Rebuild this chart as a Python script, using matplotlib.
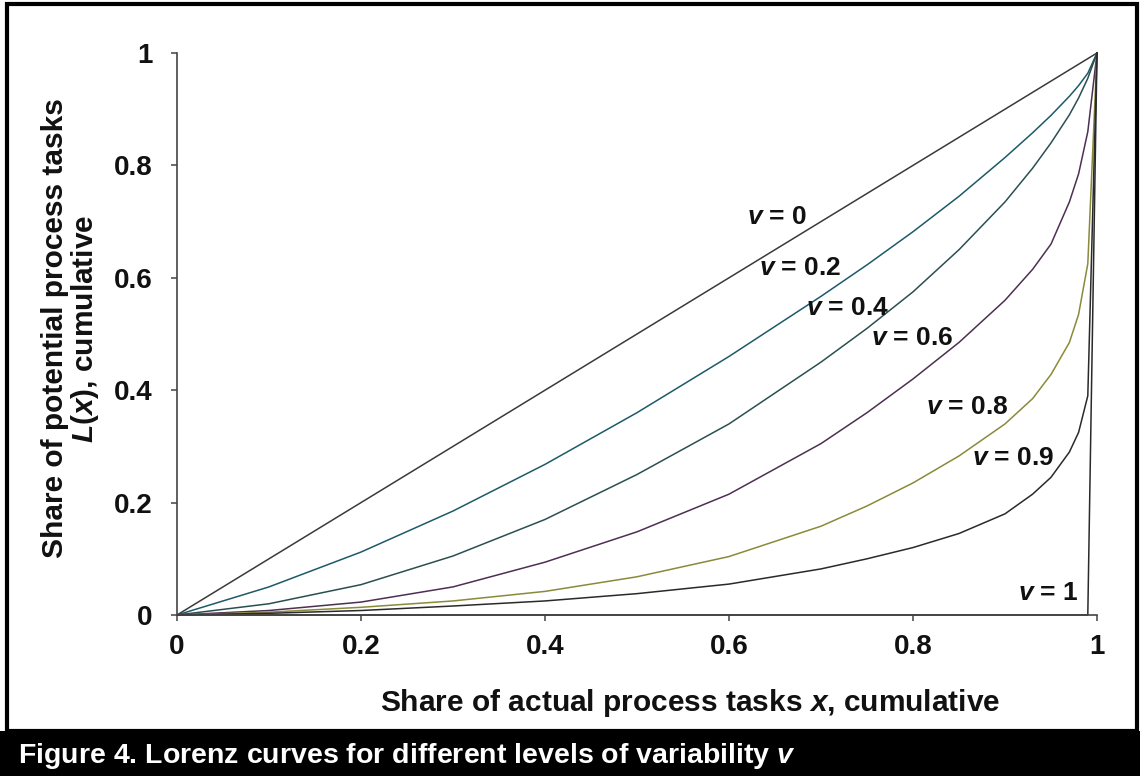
import matplotlib
matplotlib.use("Agg")
import matplotlib.pyplot as plt
from matplotlib.patches import Rectangle

plt.rcParams['font.family'] = ['Liberation Sans', 'DejaVu Sans']
plt.rcParams['font.weight'] = 'bold'
plt.rcParams['mathtext.fontset'] = 'custom'
plt.rcParams['mathtext.rm'] = 'Liberation Sans:bold'
plt.rcParams['mathtext.it'] = 'Liberation Sans:italic:bold'
plt.rcParams['mathtext.bfit'] = 'Liberation Sans:italic:bold'
plt.rcParams['mathtext.bf'] = 'Liberation Sans:bold'

# ---- data ----
x_share = [0, 0.1, 0.2, 0.3, 0.4, 0.5, 0.6, 0.7, 0.75, 0.8, 0.85, 0.9, 0.93, 0.95, 0.97, 0.98, 0.99, 1.0]
L_v0 = [0, 0.1, 0.2, 0.3, 0.4, 0.5, 0.6, 0.7, 0.75, 0.8, 0.85, 0.9, 0.93, 0.95, 0.97, 0.98, 0.99, 1.0]
L_v02 = [0, 0.05, 0.112, 0.185, 0.268, 0.36, 0.46, 0.567, 0.623, 0.682, 0.745, 0.814, 0.858, 0.889, 0.923, 0.942, 0.964, 1.0]
L_v04 = [0, 0.02, 0.054, 0.105, 0.17, 0.25, 0.34, 0.45, 0.51, 0.575, 0.65, 0.735, 0.795, 0.84, 0.89, 0.92, 0.955, 1.0]
L_v06 = [0, 0.008, 0.023, 0.05, 0.094, 0.148, 0.215, 0.305, 0.36, 0.42, 0.485, 0.56, 0.615, 0.66, 0.735, 0.785, 0.86, 1.0]
L_v08 = [0, 0.005, 0.0137, 0.025, 0.042, 0.068, 0.104, 0.158, 0.194, 0.235, 0.283, 0.34, 0.385, 0.428, 0.485, 0.535, 0.625, 1.0]
L_v09 = [0, 0.003, 0.008, 0.016, 0.025, 0.038, 0.055, 0.082, 0.10, 0.12, 0.145, 0.18, 0.215, 0.245, 0.29, 0.325, 0.39, 1.0]
x_v1 = [0, 0.99, 1.0]
L_v1 = [0, 0.0, 1.0]

series = [
    (x_share, L_v0, '#3a3a3a'),
    (x_share, L_v02, '#1d5a68'),
    (x_share, L_v04, '#2b4f50'),
    (x_share, L_v06, '#4d2f52'),
    (x_share, L_v08, '#8a8a3a'),
    (x_share, L_v09, '#2a2a2a'),
    (x_v1, L_v1, '#2a2a2a'),
]

labels = ['0', '0.2', '0.4', '0.6', '0.8', '0.9', '1']
label_x = [0.652, 0.677, 0.729, 0.799, 0.859, 0.909, 0.947]
label_y = [0.708, 0.617, 0.546, 0.493, 0.370, 0.279, 0.039]

ticks = [0, 0.2, 0.4, 0.6, 0.8, 1]
tick_labels = ['0', '0.2', '0.4', '0.6', '0.8', '1']

# ---- figure ----
fig = plt.figure(figsize=(11.4, 7.76), dpi=100)
fig.patch.set_facecolor('white')

# caption band
fig.patches.append(Rectangle((0, 0), 1, 45 / 776, transform=fig.transFigure,
                             facecolor='black', edgecolor='none', zorder=0))
# frame
fig.patches.append(Rectangle((7 / 1140, 45 / 776), 1130 / 1140, 727 / 776,
                             transform=fig.transFigure, facecolor='none',
                             edgecolor='black', linewidth=3, zorder=1))
fig.text(18 / 1140, 20 / 776,
         r'Figure 4. Lorenz curves for different levels of variability $\mathbfit{v}$',
         color='white', fontsize=20.5, fontweight='bold', va='center', ha='left')

ax = fig.add_axes([177 / 1140, 161 / 776, 920 / 1140, 562 / 776])
for xs, ys, c in series:
    ax.plot(xs, ys, color=c, linewidth=1.1, clip_on=False)

for lab, lx, ly in zip(labels, label_x, label_y):
    ax.text(lx, ly, r'$\mathbfit{v}$ = ' + lab, fontsize=19, fontweight='bold',
            ha='center', va='center', color='#111111')

ax.set_xlim(0, 1)
ax.set_ylim(0, 1)
ax.set_xticks(ticks)
ax.set_xticklabels(tick_labels)
ax.set_yticks(ticks)
ax.set_yticklabels(tick_labels)
ax.tick_params(direction='out', length=4.5, width=1.1, colors='#444444',
               labelcolor='#111111', labelsize=20)
ax.tick_params(axis='x', pad=9.5)
ax.tick_params(axis='y', pad=13)
for t in ax.get_xticklabels() + ax.get_yticklabels():
    t.set_fontweight('bold')
for s in ['top', 'right']:
    ax.spines[s].set_visible(False)
for s in ['left', 'bottom']:
    ax.spines[s].set_color('#444444')
    ax.spines[s].set_linewidth(1.2)

ax.set_xlabel(r'Share of actual process tasks $\mathbfit{x}$, cumulative',
              fontsize=21.5, fontweight='bold', color='#111111')
ax.xaxis.label.set_va('center')
ax.xaxis.set_label_coords((690 - 177) / 920, (615 - 703) / 562)

ax.set_ylabel('Share of potential process tasks\n' +
              r'$\mathbfit{L}$($\mathbfit{x}$), cumulative',
              fontsize=21.5, fontweight='bold', color='#111111',
              linespacing=1.0)
ax.yaxis.label.set_va('center')
ax.yaxis.set_label_coords((71 - 177) / 920, 0.51)

fig.savefig('out.png', dpi=100)
